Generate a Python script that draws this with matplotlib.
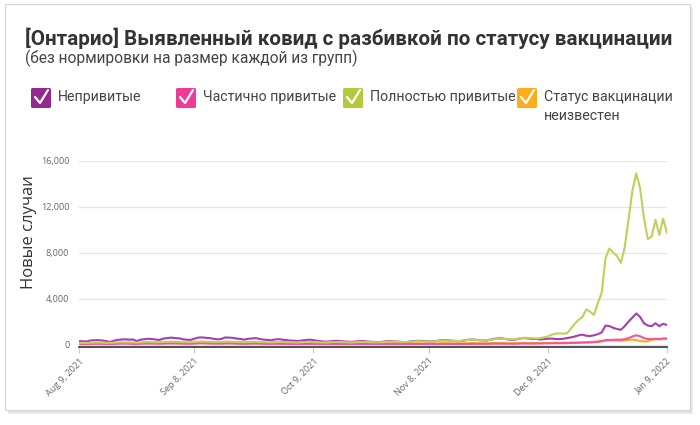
import numpy as np
import pandas as pd
import matplotlib
matplotlib.use("Agg")
from matplotlib import pyplot as plt
from matplotlib.patches import FancyBboxPatch
from matplotlib.lines import Line2D

# daily cases, Aug 9 2021 .. Jan 9 2022 (one row per week)
unvaccinated = [
    300, 280, 260, 350, 370, 380, 350,
    300, 220, 320, 400, 430, 450, 420,
    440, 300, 420, 460, 500, 480, 430,
    400, 520, 560, 600, 560, 540, 460,
    420, 400, 500, 600, 620, 580, 560,
    500, 450, 480, 610, 600, 580, 520,
    480, 420, 500, 520, 560, 480, 430,
    400, 360, 440, 460, 420, 380, 340,
    330, 300, 350, 390, 420, 380, 320,
    280, 250, 260, 300, 320, 290, 260,
    240, 230, 260, 290, 300, 260, 240,
    220, 200, 240, 280, 290, 260, 250,
    220, 200, 250, 300, 320, 310, 300,
    280, 260, 300, 360, 380, 360, 330,
    300, 280, 330, 400, 430, 420, 380,
    360, 340, 420, 500, 520, 540, 480,
    420, 400, 460, 540, 560, 520, 480,
    480, 440, 470, 500, 520, 480, 470,
    500, 560, 620, 700, 800, 860, 760,
    740, 800, 900, 1050, 1650, 1600, 1450,
    1350, 1280, 1600, 2000, 2350, 2700, 2400,
    1850, 1650, 1600, 1850, 1600, 1800, 1700,
]
partially = [
    50, 45, 40, 55, 60, 60, 55,
    50, 40, 55, 65, 70, 70, 65,
    65, 50, 65, 75, 80, 75, 70,
    65, 75, 85, 90, 85, 80, 70,
    65, 60, 75, 90, 95, 85, 80,
    75, 65, 70, 85, 85, 80, 70,
    65, 55, 65, 70, 75, 65, 60,
    55, 50, 60, 60, 55, 50, 45,
    45, 40, 45, 50, 55, 50, 45,
    40, 35, 35, 40, 45, 40, 35,
    35, 30, 35, 40, 40, 35, 35,
    30, 30, 35, 40, 40, 35, 35,
    30, 30, 35, 40, 45, 45, 40,
    40, 35, 40, 50, 50, 50, 45,
    45, 40, 45, 55, 60, 55, 55,
    50, 50, 60, 70, 70, 75, 70,
    65, 60, 70, 80, 85, 80, 75,
    90, 90, 100, 100, 110, 110, 110,
    120, 120, 130, 140, 150, 160, 170,
    180, 200, 230, 280, 380, 400, 410,
    420, 420, 460, 560, 700, 800, 720,
    560, 480, 480, 500, 480, 530, 520,
]
fully = [
    150, 140, 130, 160, 170, 170, 160,
    150, 140, 160, 180, 190, 190, 180,
    180, 160, 190, 210, 220, 210, 200,
    200, 210, 230, 250, 240, 230, 210,
    200, 200, 230, 250, 260, 250, 240,
    220, 210, 230, 250, 250, 240, 220,
    210, 200, 220, 230, 240, 220, 210,
    200, 190, 210, 220, 220, 210, 200,
    190, 180, 200, 220, 230, 210, 200,
    190, 180, 190, 210, 220, 210, 200,
    190, 180, 200, 220, 230, 220, 210,
    200, 190, 210, 240, 250, 240, 230,
    220, 210, 240, 270, 290, 280, 270,
    260, 250, 290, 330, 350, 340, 320,
    310, 300, 340, 390, 410, 400, 380,
    370, 350, 410, 470, 490, 500, 470,
    450, 430, 490, 560, 590, 570, 540,
    520, 560, 620, 700, 850, 950, 960,
    950, 980, 1400, 1800, 2150, 2400, 3050,
    2850, 2580, 3600, 4500, 7500, 8350, 8000,
    7700, 7100, 8450, 10900, 13400, 14900, 13600,
    11000, 9190, 9390, 10860, 9540, 10950, 9720,
]
unknown = [
    110, 100, 90, 110, 120, 120, 110,
    100, 90, 110, 120, 130, 130, 120,
    120, 100, 120, 130, 140, 130, 120,
    120, 130, 140, 150, 140, 140, 120,
    110, 110, 130, 150, 150, 140, 130,
    120, 110, 120, 140, 140, 130, 120,
    110, 100, 120, 120, 130, 110, 100,
    100, 90, 110, 110, 100, 90, 90,
    80, 80, 90, 100, 100, 90, 80,
    80, 70, 70, 80, 90, 80, 70,
    70, 70, 80, 90, 90, 80, 70,
    70, 60, 70, 80, 90, 80, 80,
    70, 70, 80, 90, 100, 90, 90,
    80, 80, 90, 100, 110, 100, 100,
    90, 90, 100, 110, 120, 110, 110,
    100, 100, 110, 120, 130, 130, 120,
    110, 110, 120, 130, 140, 130, 130,
    120, 120, 130, 130, 140, 140, 150,
    150, 160, 170, 180, 190, 200, 210,
    220, 240, 270, 300, 340, 360, 350,
    340, 330, 360, 400, 420, 380, 300,
    260, 280, 400, 460, 440, 480, 470,
]
dates = pd.date_range("2021-08-09", "2022-01-09", freq="D")

labels = ["Непривитые", "Частично привитые", "Полностью привитые",
          "Статус вакцинации\nнеизвестен"]
box_colors = ["#93288f", "#f03a98", "#b6c93c", "#fbad1c"]
line_colors = ["#a43fae", "#f4559e", "#c3cd5c", "#f7aa2a"]

tick_dates = pd.to_datetime(["2021-08-09", "2021-09-08", "2021-10-09",
                             "2021-11-08", "2021-12-09", "2022-01-09"])
tick_labels = ["Aug 9, 2021", "Sep 8, 2021", "Oct 9, 2021",
               "Nov 8, 2021", "Dec 9, 2021", "Jan 9, 2022"]

W, H = 700, 425
fig = plt.figure(figsize=(7, 4.25), dpi=100)
fig.patch.set_facecolor("white")


def px(x, y):
    return x / W, 1 - y / H


# card with soft shadow
for off, col in [(3, "#ededed"), (2, "#e2e2e2")]:
    fig.add_artist(FancyBboxPatch(px(6 + off, 411 + off), 684 / W, 406 / H,
                                  boxstyle="square,pad=0", transform=fig.transFigure,
                                  facecolor=col, edgecolor="none", zorder=0))
fig.add_artist(FancyBboxPatch(px(5, 410), 685 / W, 406 / H,
                              boxstyle="square,pad=0", transform=fig.transFigure,
                              facecolor="white", edgecolor="#d6d6d6", lw=0.8, zorder=1))

fig.text(*px(25, 38), "[Онтарио] Выявленный ковид с разбивкой по статусу вакцинации",
         family="Roboto", fontweight="bold", fontsize=14.85, color="#333333",
         va="center", ha="left")
fig.text(*px(25, 58), "(без нормировки на размер каждой из групп)",
         family="Roboto", fontsize=11.2, color="#444444", va="center", ha="left")

# legend with checkboxes
box_x = [31, 176, 343, 517]
for bx, lab, c in zip(box_x, labels, box_colors):
    x0, y0 = px(bx, 108)
    fig.add_artist(FancyBboxPatch((x0, y0), 20 / W, 20 / H, transform=fig.transFigure,
                                  boxstyle="round,pad=0,rounding_size=0.003",
                                  facecolor=c, edgecolor="none", zorder=2))
    cx = [bx + 4, bx + 9, bx + 17]
    cy = [97, 103, 90]
    fig.add_artist(Line2D([a / W for a in cx], [1 - b / H for b in cy],
                          transform=fig.transFigure, color="white", lw=1.6,
                          solid_capstyle="round", zorder=3))
    fig.text(*px(bx + 27, 90), lab, family="Roboto", fontsize=10.2,
             color="#444444", va="top", ha="left", linespacing=1.45)

l, r = 79 / W, 667 / W
b, t = 1 - 346.8 / H, 1 - 160.7 / H
ax = fig.add_axes([l, b, r - l, t - b])
ax.set_zorder(4)
ax.patch.set_alpha(0)

ax.plot(dates, unknown, color=line_colors[3], lw=1.5)
ax.plot(dates, partially, color=line_colors[1], lw=1.5)
ax.plot(dates, unvaccinated, color=line_colors[0], lw=1.5)
ax.plot(dates, fully, color=line_colors[2], lw=1.5)

ax.set_xlim(dates[0], dates[-1])
ax.set_ylim(-200, 16000)
ax.set_yticks([0, 4000, 8000, 12000, 16000])
ax.set_yticklabels(["0", "4,000", "8,000", "12,000", "16,000"])
ax.grid(axis="y", color="#e6e6e6", lw=1)
ax.set_axisbelow(True)
ax.set_xticks(tick_dates)
ax.set_xticklabels(tick_labels, rotation=45, ha="right", rotation_mode="anchor")
for lab in ax.get_xticklabels() + ax.get_yticklabels():
    lab.set_family("Open Sans")
    lab.set_fontsize(6.5)
    lab.set_color("#666666")
ax.tick_params(axis="y", length=0, pad=7)
ax.tick_params(axis="x", length=4, color="#cccccc", pad=3)
for s in ["top", "right", "left"]:
    ax.spines[s].set_visible(False)
ax.spines["bottom"].set_color("#333333")
ax.spines["bottom"].set_linewidth(1.2)

fig.text(*px(29, 232), "Новые случаи", family="Open Sans", fontsize=12,
         color="#333333", rotation=90, va="center", ha="center")

fig.savefig("out.png", dpi=100, facecolor="white")
